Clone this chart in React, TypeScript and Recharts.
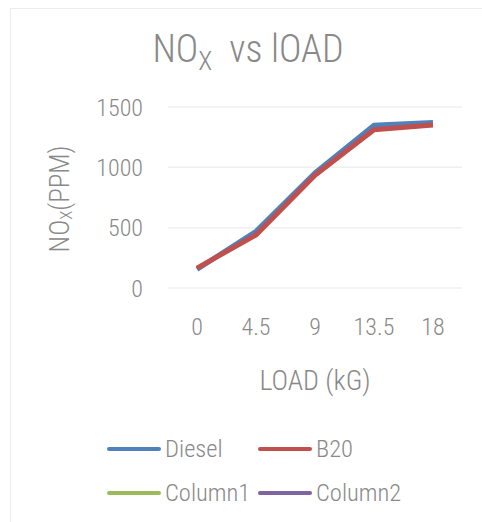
import React from 'react';
import { LineChart, Line, XAxis, YAxis, CartesianGrid } from 'recharts';

// values
const loads = ['0', '4.5', '9', '13.5', '18'];
const diesel = [155, 470, 955, 1350, 1372];
const b20 = [165, 440, 935, 1312, 1350];
const column1: (number | null)[] = [null, null, null, null, null];
const column2: (number | null)[] = [null, null, null, null, null];
const yTicks = [0, 500, 1000, 1500];

const series = [
    { key: 'Diesel', values: diesel, color: '#4F81BD' },
    { key: 'B20', values: b20, color: '#C0504D' },
    { key: 'Column1', values: column1, color: '#9BBB59' },
    { key: 'Column2', values: column2, color: '#8064A2' },
];

const FONT = '"Roboto Condensed", "Liberation Sans Narrow", sans-serif';
const GRAY = '#898989';

const data = loads.map((load, i) => {
    const row: { [key: string]: string | number | null } = { load };
    series.forEach((s) => {
        row[s.key] = s.values[i];
    });
    return row;
});

const App: React.FC = () => {
    return (
        <div style={{ position: 'absolute', left: 0, top: 0, width: 482, height: 522, background: '#fff', fontFamily: FONT, fontWeight: 300 }}>
            <div
                style={{
                    position: 'absolute', left: 10, top: 8, width: 480, height: 520,
                    border: '1px solid #ececec', boxSizing: 'border-box',
                }}
            />
            <LineChart
                width={482}
                height={522}
                data={data}
                margin={{ top: 107, right: 20, bottom: 194, left: 0 }}
                style={{ position: 'absolute', left: 0, top: 0 }}
            >
                <CartesianGrid vertical={false} stroke="#efefef" strokeWidth={1.5} />
                <XAxis
                    dataKey="load"
                    axisLine={false}
                    tickLine={false}
                    tickSize={0}
                    tickMargin={30}
                    height={40}
                    padding={{ left: 29, right: 29 }}
                    tick={{ fill: GRAY, fontSize: 24, fontFamily: FONT, fontWeight: 300 }}
                />
                <YAxis
                    domain={[0, 1500]}
                    ticks={yTicks}
                    axisLine={false}
                    tickLine={false}
                    tickSize={0}
                    tickMargin={25}
                    width={168}
                    tick={{ fill: GRAY, fontSize: 24, fontFamily: FONT, fontWeight: 300 }}
                />
                {series.map((s) => (
                    <Line
                        key={s.key}
                        type="linear"
                        dataKey={s.key}
                        stroke={s.color}
                        strokeWidth={5}
                        dot={false}
                        isAnimationActive={false}
                    />
                ))}
            </LineChart>

            <div style={{ position: 'absolute', left: 7, width: 482, top: 27, textAlign: 'center', fontSize: 38, color: GRAY, whiteSpace: 'nowrap' }}>
                NO<sub style={{ fontSize: 26, verticalAlign: '-0.3em' }}>X</sub>&nbsp; vs lOAD
            </div>

            <div
                style={{
                    position: 'absolute', left: 60, top: 199, width: 0, height: 0,
                }}
            >
                <div
                    style={{
                        position: 'absolute', transform: 'translate(-50%, -50%) rotate(-90deg)',
                        whiteSpace: 'nowrap', fontSize: 27, color: GRAY,
                    }}
                >
                    NO<sub style={{ fontSize: 17, verticalAlign: '-0.15em' }}>X</sub>(PPM)
                </div>
            </div>

            <div style={{ position: 'absolute', left: 168, width: 294, top: 364, textAlign: 'center', fontSize: 28, color: GRAY }}>
                LOAD (kG)
            </div>

            {series.map((s, i) => (
                <div
                    key={s.key}
                    style={{
                        position: 'absolute',
                        left: 107 + (i % 2) * 151,
                        top: 434 + Math.floor(i / 2) * 44,
                        display: 'flex', alignItems: 'center', fontSize: 24.5, color: GRAY,
                    }}
                >
                    <span style={{ display: 'inline-block', width: 54, height: 4, borderRadius: 2, background: s.color, marginRight: 4 }} />
                    {s.key}
                </div>
            ))}
        </div>
    );
};

export default App;
